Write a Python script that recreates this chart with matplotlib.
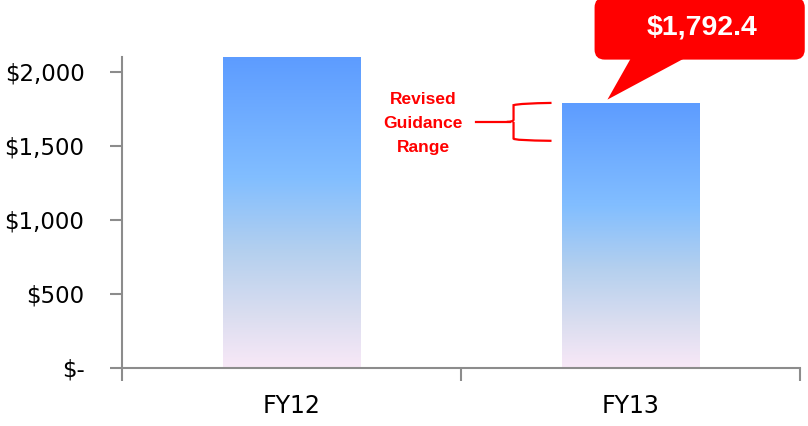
import numpy as np
import matplotlib
matplotlib.use("Agg")
import matplotlib.pyplot as plt
from matplotlib.colors import LinearSegmentedColormap
from matplotlib.patches import FancyBboxPatch, Polygon, PathPatch
from matplotlib.path import Path

categories = ["FY12", "FY13"]
values = [2100, 1792.4]
callout_label = "$1,792.4"
guidance_low, guidance_high = 1534, 1790
guidance_text = "Revised\nGuidance\nRange"
yticks = [0, 500, 1000, 1500, 2000]
yticklabels = ["$-", "$500", "$1,000", "$1,500", "$2,000"]

fig = plt.figure(figsize=(8.08, 4.26), dpi=100)
ax = fig.add_axes([122/808, 1-368/426, (800-122)/808, (368-57)/426])

x = np.arange(len(categories))
width = 0.405

cmap = LinearSegmentedColormap.from_list("grad", [
    (0.0, "#F8E8F7"), (0.16, "#DCDEF0"), (0.37, "#B5D0EE"),
    (0.61, "#82BEFF"), (1.0, "#5D9CFF")])
grad = np.linspace(0, 1, 256).reshape(-1, 1)
bars = ax.bar(x, values, width=width, color="none", edgecolor="none", zorder=2)
for b, v in zip(bars, values):
    im = ax.imshow(grad, cmap=cmap, origin="lower", aspect="auto",
                   extent=[b.get_x(), b.get_x() + b.get_width(), 0, v], zorder=2)
    im.set_clip_path(b)
ax.set_xlim(-0.5, 1.5)
ax.set_ylim(0, 2100)

for s in ["top", "right"]:
    ax.spines[s].set_visible(False)
for s in ["left", "bottom"]:
    ax.spines[s].set_color("#8C8C8C")
    ax.spines[s].set_linewidth(1.5)

ax.set_yticks(yticks)
ax.set_yticklabels(yticklabels)
ax.set_xticks([-0.5, 0.5, 1.5])
ax.set_xticklabels([])
ax.set_xticks(x, minor=True)
ax.set_xticklabels(categories, minor=True)
ax.tick_params(axis="y", length=9, width=1.5, color="#8C8C8C", pad=18,
               labelsize=16.5, labelcolor="black")
ax.tick_params(axis="x", which="major", length=9, width=1.5, color="#8C8C8C")
ax.tick_params(axis="x", which="minor", length=0, pad=19, labelsize=17)

# Callout for FY13
v = values[1]
tip = (0.932, v + 20)
box = FancyBboxPatch((0.894, v + 290), 0.62, 420,
                     boxstyle="round,pad=0,rounding_size=0.03",
                     mutation_aspect=2250, facecolor="#FF0000", edgecolor="none",
                     clip_on=False, zorder=5)
ax.add_patch(box)
ptr = Polygon([tip, (1.0, v + 295), (1.156, v + 295)], closed=True,
              facecolor="#FF0000", edgecolor="none", clip_on=False, zorder=5)
ax.add_patch(ptr)
ax.text(1.21, v + 505, callout_label, color="white", fontsize=20.5,
        fontweight="bold", family="Liberation Sans", ha="center", va="center",
        zorder=6, clip_on=False)

# Guidance brace
mid = (guidance_low + guidance_high) / 2
xa, xv, xt = 0.767, 0.655, 0.645
r = 15
verts = [(xa, guidance_high), (xv + 0.02, guidance_high - 3), (xv, guidance_high - r),
         (xv, mid + r), (xv, mid), (xt - 0.01, mid),
         (xv, mid), (xv, mid - r),
         (xv, guidance_low + r), (xv, guidance_low + 3), (xa, guidance_low)]
codes = [Path.MOVETO, Path.CURVE3, Path.CURVE3, Path.LINETO, Path.CURVE3, Path.CURVE3,
         Path.MOVETO, Path.CURVE3, Path.LINETO, Path.CURVE3, Path.CURVE3]
ax.add_patch(PathPatch(Path(verts, codes), facecolor="none", edgecolor="#FF0000",
                       lw=1.6, zorder=4, clip_on=False))
ax.plot([0.543, xt], [mid, mid], color="#FF0000", lw=1.6, zorder=4)
ax.text(0.388, mid - 12, guidance_text, color="#FF0000", fontsize=12.5,
        fontweight="bold", family="Liberation Sans", ha="center", va="center",
        linespacing=1.75)

fig.savefig("out.png", dpi=100)
